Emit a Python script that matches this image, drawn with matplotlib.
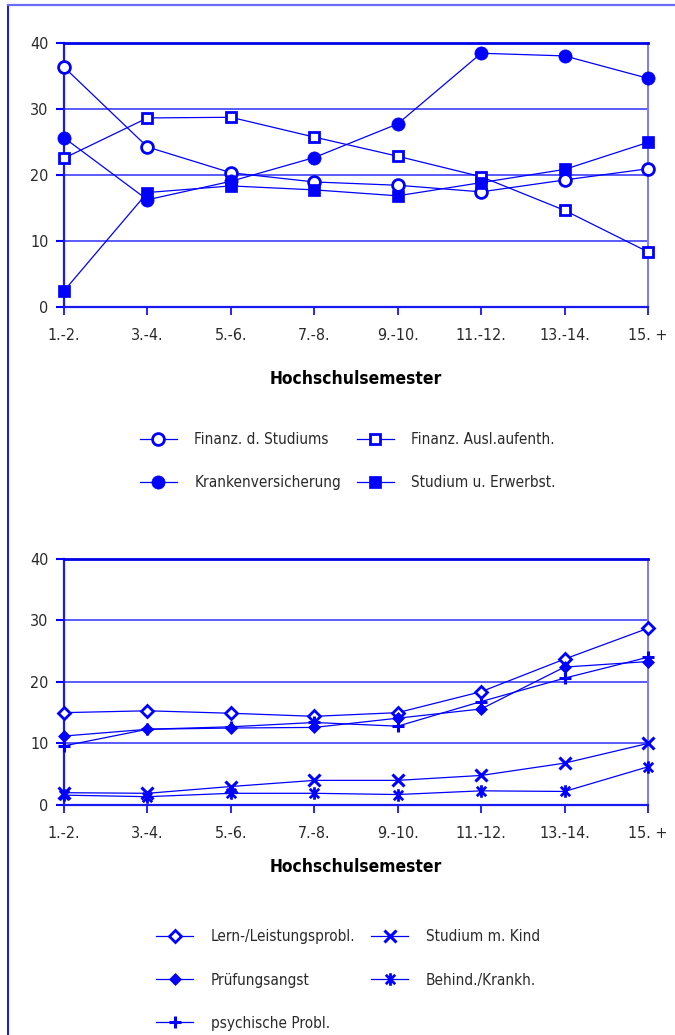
import numpy as np
import matplotlib
matplotlib.use("Agg")
import matplotlib.pyplot as plt
from matplotlib.path import Path
from matplotlib.lines import Line2D

plt.rcParams['font.family'] = ['DejaVu Sans']
plt.rcParams['font.stretch'] = 'condensed'
plt.rcParams['font.size'] = 11.5
plt.rcParams['text.color'] = '#2a2a2a'
plt.rcParams['xtick.color'] = '#2a2a2a'
plt.rcParams['ytick.color'] = '#2a2a2a'

# categories (semester groups)
semester = ["1.-2.", "3.-4.", "5.-6.", "7.-8.", "9.-10.", "11.-12.", "13.-14.", "15. +"]
y_ticks = [0, 10, 20, 30, 40]

# top chart values (%)
finanz_studium = [36.3, 24.2, 20.3, 18.9, 18.4, 17.4, 19.2, 20.9]
finanz_ausland = [22.5, 28.6, 28.7, 25.7, 22.8, 19.7, 14.6, 8.3]
krankenvers = [25.6, 16.2, 19.0, 22.6, 27.7, 38.4, 38.0, 34.6]
studium_erwerb = [2.4, 17.3, 18.3, 17.7, 16.8, 18.8, 20.8, 24.9]

# bottom chart values (%)
lern_leistung = [15.0, 15.3, 14.9, 14.4, 15.0, 18.4, 23.7, 28.7]
pruefungsangst = [11.2, 12.3, 12.5, 12.6, 14.1, 15.6, 22.4, 23.3]
psychische = [9.6, 12.3, 12.7, 13.4, 12.8, 16.8, 20.6, 24.0]
mit_kind = [2.0, 1.9, 3.0, 4.0, 4.0, 4.8, 6.8, 10.0]
behind_krank = [1.6, 1.35, 1.9, 1.9, 1.7, 2.3, 2.2, 6.2]

BLUE = '#0000ff'
GRID = '#5a5af8'

# asterisk marker: vertical bar plus an x
star = Path([(0, -1), (0, 1), (-0.75, -0.75), (0.75, 0.75), (-0.75, 0.75), (0.75, -0.75)],
            [Path.MOVETO, Path.LINETO, Path.MOVETO, Path.LINETO, Path.MOVETO, Path.LINETO])

fig = plt.figure(figsize=(6.75, 10.35), dpi=100)

# outer frame (left and top edge)
fig.add_artist(Line2D([7.5 / 675, 7.5 / 675], [0, 1 - 5 / 1035], transform=fig.transFigure,
                      color=BLUE, lw=1.3))
fig.add_artist(Line2D([7.5 / 675, 1], [1 - 5 / 1035, 1 - 5 / 1035], transform=fig.transFigure,
                      color='#6a6af8', lw=1.6))


def style_axes(ax, labelpad):
    x = np.arange(len(semester))
    ax.set_xlim(0, len(semester) - 1)
    ax.set_ylim(0, 40)
    ax.set_xticks(x)
    ax.set_xticklabels(semester)
    ax.set_yticks(y_ticks)
    ax.tick_params(axis='x', direction='out', length=6, width=1.2, color=BLUE, pad=9)
    ax.tick_params(axis='y', direction='out', length=6, width=1.5, color=BLUE, pad=5)
    ax.grid(axis='y', color=GRID, lw=1.4, zorder=0)
    ax.set_axisbelow(True)
    ax.spines['left'].set_color('#1a1af0')
    ax.spines['left'].set_linewidth(1.6)
    ax.spines['right'].set_color('#7a7aff')
    ax.spines['right'].set_linewidth(1.4)
    ax.spines['top'].set_color('#0000e8')
    ax.spines['top'].set_linewidth(2.0)
    ax.spines['bottom'].set_color('#1a1af0')
    ax.spines['bottom'].set_linewidth(1.6)
    ax.set_xlabel('Hochschulsemester', fontweight='bold', fontsize=12.5, labelpad=labelpad)
    return x


# ---- top chart ----
ax1 = fig.add_axes([64 / 675, 1 - 306.7 / 1035, 584 / 675, 264 / 1035])
x = style_axes(ax1, 20)
kw = dict(color=BLUE, lw=0.9, clip_on=False, zorder=3)
h1 = ax1.plot(x, finanz_studium, marker='o', ms=8.5, mfc='white', mec=BLUE, mew=2,
              label='Finanz. d. Studiums', **kw)[0]
h2 = ax1.plot(x, finanz_ausland, marker='s', ms=7.5, mfc='white', mec=BLUE, mew=2,
              label='Finanz. Ausl.aufenth.', **kw)[0]
h3 = ax1.plot(x, krankenvers, marker='o', ms=9.5, mfc=BLUE, mec=BLUE, mew=0.5,
              label='Krankenversicherung', **kw)[0]
h4 = ax1.plot(x, studium_erwerb, marker='s', ms=8, mfc=BLUE, mec=BLUE, mew=0.5,
              label='Studium u. Erwerbst.', **kw)[0]
fig.legend(handles=[h1, h3, h2, h4], ncol=2, frameon=False, loc='center', fontsize=11,
           bbox_to_anchor=(348 / 675, 1 - 461 / 1035), handlelength=2.4, handletextpad=1.15,
           labelspacing=1.85, columnspacing=1.05)

# ---- bottom chart ----
ax2 = fig.add_axes([64 / 675, 1 - 805 / 1035, 584 / 675, 246.3 / 1035])
x = style_axes(ax2, 12)
g1 = ax2.plot(x, lern_leistung, marker='D', ms=6, mfc='white', mec=BLUE, mew=2,
              label='Lern-/Leistungsprobl.', **kw)[0]
g2 = ax2.plot(x, pruefungsangst, marker='D', ms=6.5, mfc=BLUE, mec=BLUE, mew=0.5,
              label='Prüfungsangst', **kw)[0]
g3 = ax2.plot(x, psychische, marker='+', ms=9, mec=BLUE, mew=2.2,
              label='psychische Probl.', **kw)[0]
g4 = ax2.plot(x, mit_kind, marker='x', ms=8, mec=BLUE, mew=2.2,
              label='Studium m. Kind', **kw)[0]
g5 = ax2.plot(x, behind_krank, marker=star, ms=9, mec=BLUE, mfc=BLUE, mew=2,
              label='Behind./Krankh.', **kw)[0]
fig.legend(handles=[g1, g2, g3, g4, g5], ncol=2, frameon=False, loc='center', fontsize=11,
           bbox_to_anchor=(348 / 675, 1 - 980 / 1035), handlelength=2.4, handletextpad=1.15,
           labelspacing=1.85, columnspacing=1.05)

fig.savefig('out.png', dpi=100)
